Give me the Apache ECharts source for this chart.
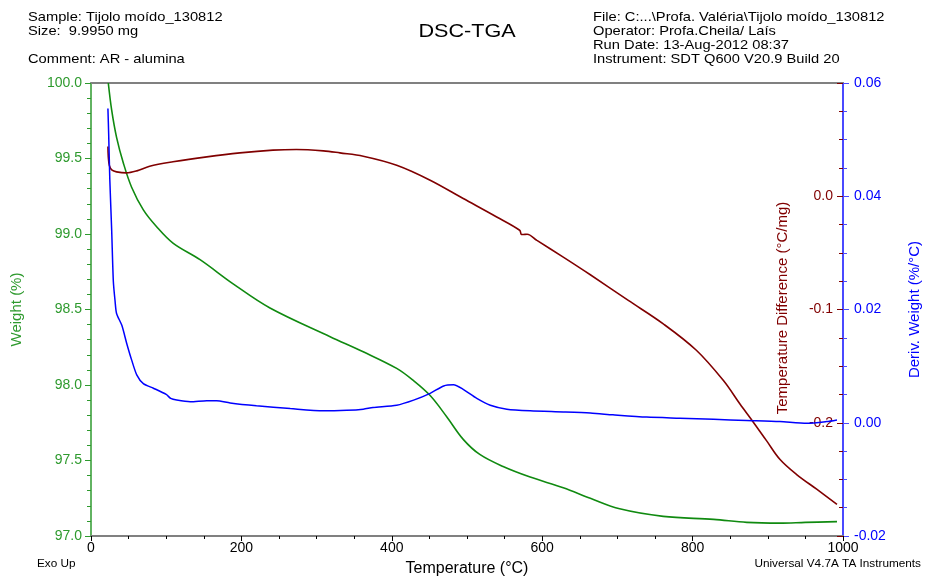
<!DOCTYPE html>
<html>
<head>
<meta charset="utf-8">
<title>DSC-TGA</title>
<script src="https://cdn.jsdelivr.net/npm/echarts@6/dist/echarts.min.js"></script>
<style>
  html, body { margin: 0; padding: 0; background: #fff; }
  #chart { width: 925px; height: 576px; }
</style>
</head>
<body>
<div id="chart"></div>
<script>
// TGA - weight (%)
var weightTemps = [23, 27.5, 34, 43, 54, 69.6, 87, 109, 145, 189, 238, 318, 362, 406.5, 428.6, 451, 473, 495, 517, 548, 584, 628, 664, 703, 761, 828, 872, 916, 950, 992];
var weightVals  = [100.0, 99.82, 99.64, 99.47, 99.31, 99.16, 99.05, 98.94, 98.83, 98.67, 98.51, 98.32, 98.22, 98.11, 98.03, 97.93, 97.79, 97.64, 97.54, 97.46, 97.39, 97.32, 97.25, 97.18, 97.13, 97.11, 97.09, 97.085, 97.09, 97.095];

// DSC - temperature difference (°C/mg)
var dscTemps = [22.5, 23, 24.5, 28, 34, 47, 61, 78, 109, 154, 198, 242, 273, 309, 331, 362, 406.5, 451, 495, 539.5, 570, 572, 574, 580, 593, 628, 664, 714.5, 761, 805, 841, 863, 881, 898.5, 916, 938, 965, 992];
var dscVals  = [0.044, 0.035, 0.027, 0.023, 0.0215, 0.0206, 0.0224, 0.0265, 0.0304, 0.0348, 0.0383, 0.0407, 0.0413, 0.0401, 0.0383, 0.0354, 0.0274, 0.0142, -0.002, -0.0183, -0.030, -0.0335, -0.0338, -0.0335, -0.039, -0.0537, -0.0693, -0.092, -0.1127, -0.136, -0.1628, -0.1835, -0.1997, -0.216, -0.2322, -0.2455, -0.2587, -0.272];

// DTG - deriv. weight (%/°C)
var derivTemps = [22.5, 23.5, 25, 27.5, 29.7, 32, 34, 41, 47.5, 54, 61, 69.6, 83, 100, 106, 114, 132, 154, 167, 185, 220, 265, 309, 340, 362, 375, 406.5, 429, 451, 469, 482, 495, 513, 531, 553, 584, 628, 664, 694, 739, 783, 828, 872, 916, 952, 978, 992];
var derivVals  = [0.0555, 0.051, 0.043, 0.034, 0.025, 0.0215, 0.0193, 0.0172, 0.014, 0.0111, 0.0084, 0.0069, 0.0061, 0.005, 0.0043, 0.0040, 0.0037, 0.0039, 0.0039, 0.0035, 0.0030, 0.0025, 0.0021, 0.0022, 0.0024, 0.0027, 0.0031, 0.0040, 0.0052, 0.0065, 0.0067, 0.0059, 0.0043, 0.0031, 0.0024, 0.0021, 0.0019, 0.0017, 0.0014, 0.0010, 0.0008, 0.0006, 0.0004, 0.0002, -0.0001, 0.0002, 0.0005];

var xTicks = [0, 200, 400, 600, 800, 1000];

function pairs(xs, ys) {
  var out = [];
  for (var i = 0; i < xs.length; i++) out.push([xs[i], ys[i]]);
  return out;
}

var FONT = 'Liberation Sans, Arial, sans-serif';
var GREEN = '#108a10', LGREEN = '#2e9a2e', RED = '#800000', BLUE = '#0000ff', LBLUE = '#4a4aff', GREY = '#808080';

// plain text helper for the header / footer notes (slightly widened like the original print)
function note(x, y, text, size, align, sx) {
  return {
    type: 'text', x: x, y: y, scaleX: sx || 1.13, silent: true,
    style: { text: text, font: size + 'px ' + FONT, fill: '#000', align: align || 'left', verticalAlign: 'middle' }
  };
}

var myChart = echarts.init(document.getElementById('chart'));
var option = {
  animation: false,
  textStyle: { fontFamily: FONT },
  grid: { left: 91, right: 82, top: 83, bottom: 40, containLabel: false, outerBoundsMode: 'none' },
  graphic: [
    note(28, 17, 'Sample: Tijolo moído_130812', 13),
    note(28, 31, 'Size:  9.9950 mg', 13),
    note(28, 59, 'Comment: AR - alumina', 13),
    note(467, 32, 'DSC-TGA', 18, 'center', 1.2),
    note(593, 17, 'File: C:...\\Profa. Valéria\\Tijolo moído_130812', 13),
    note(593, 31, 'Operator: Profa.Cheila/ Laís', 13),
    note(593, 45, 'Run Date: 13-Aug-2012 08:37', 13),
    note(593, 59, 'Instrument: SDT Q600 V20.9 Build 20', 13),
    note(37, 564, 'Exo Up', 11, 'left', 1.07),
    note(921, 564, 'Universal V4.7A TA Instruments', 11, 'right', 1.07),
    {
      type: 'text', x: 783, y: 308, rotation: Math.PI / 2, silent: true,
      style: { text: 'Temperature Difference (°C/mg)', font: '15px ' + FONT, fill: RED, align: 'center', verticalAlign: 'middle' }
    }
  ],
  xAxis: [
    {
      type: 'value', min: 0, max: 1000, interval: 200,
      name: 'Temperature (°C)', nameLocation: 'middle', nameGap: 25,
      nameTextStyle: { fontSize: 16, color: '#000' },
      axisLine: { onZero: false, lineStyle: { color: GREY, width: 2 } },
      axisTick: { length: 5, lineStyle: { color: '#000' } },
      minorTick: { show: true, splitNumber: 4, length: 3, lineStyle: { color: '#000' } },
      axisLabel: { color: '#000', fontSize: 14, margin: 5,
        formatter: function (v) { return xTicks.indexOf(v) >= 0 ? String(v) : ''; } },
      splitLine: { show: false }
    },
    {
      type: 'value', min: 0, max: 1000, position: 'top',
      axisLine: { onZero: false, lineStyle: { color: GREY, width: 2 } },
      axisTick: { show: false }, axisLabel: { show: false }, splitLine: { show: false }
    }
  ],
  yAxis: [
    {
      type: 'value', min: 97, max: 100, interval: 0.5, position: 'left',
      name: 'Weight (%)', nameLocation: 'middle', nameGap: 67, nameRotate: 90,
      nameTextStyle: { fontSize: 15, color: LGREEN },
      axisLine: { show: true, onZero: false, lineStyle: { color: LGREEN, width: 1.5 } },
      axisTick: { length: 6, lineStyle: { color: LGREEN } },
      minorTick: { show: true, splitNumber: 5, length: 4, lineStyle: { color: LGREEN } },
      axisLabel: { color: LGREEN, fontSize: 14, margin: 9,
        formatter: function (v) { return v.toFixed(1); } },
      splitLine: { show: false }
    },
    {
      type: 'value', min: -0.3, max: 0.1, interval: 0.1, position: 'right',
      axisLine: { show: false, onZero: false },
      axisTick: { inside: true, length: 6, lineStyle: { color: RED } },
      minorTick: { show: true, splitNumber: 4, length: 4, lineStyle: { color: RED } },
      axisLabel: { inside: true, color: RED, fontSize: 14, margin: 10,
        formatter: function (v) {
          if (Math.abs(v - 0.1) < 1e-6 || Math.abs(v + 0.3) < 1e-6) return '';
          return v.toFixed(1);
        } },
      splitLine: { show: false }
    },
    {
      type: 'value', min: -0.02, max: 0.06, interval: 0.02, position: 'right',
      name: 'Deriv. Weight (%/°C)', nameLocation: 'middle', nameGap: 64, nameRotate: 90,
      nameTextStyle: { fontSize: 15, color: BLUE },
      axisLine: { show: true, onZero: false, lineStyle: { color: LBLUE, width: 2 } },
      axisTick: { length: 6, lineStyle: { color: LBLUE } },
      minorTick: { show: true, splitNumber: 4, length: 4, lineStyle: { color: LBLUE } },
      axisLabel: { color: BLUE, fontSize: 14, margin: 11,
        formatter: function (v) { return v.toFixed(2); } },
      splitLine: { show: false }
    }
  ],
  series: [
    {
      name: 'Weight', type: 'line', xAxisIndex: 0, yAxisIndex: 0,
      data: pairs(weightTemps, weightVals), showSymbol: false, smooth: 0.35,
      lineStyle: { color: GREEN, width: 1.6 }, itemStyle: { color: GREEN }
    },
    {
      name: 'Temperature Difference', type: 'line', xAxisIndex: 0, yAxisIndex: 1,
      data: pairs(dscTemps, dscVals), showSymbol: false, smooth: 0.35,
      lineStyle: { color: RED, width: 1.6 }, itemStyle: { color: RED }
    },
    {
      name: 'Deriv. Weight', type: 'line', xAxisIndex: 0, yAxisIndex: 2,
      data: pairs(derivTemps, derivVals), showSymbol: false, smooth: 0.25,
      lineStyle: { color: BLUE, width: 1.5 }, itemStyle: { color: BLUE }
    }
  ]
};
myChart.setOption(option);
</script>
</body>
</html>
